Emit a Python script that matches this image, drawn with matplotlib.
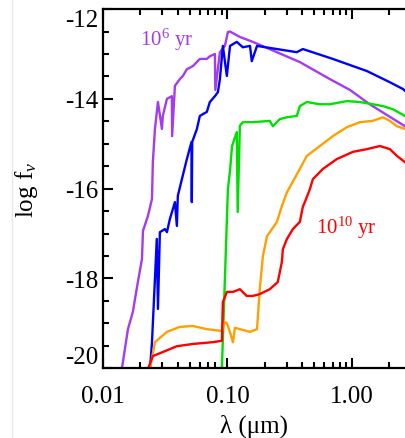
import matplotlib
matplotlib.use("Agg")
import matplotlib.pyplot as plt
from matplotlib.ticker import FixedLocator, MultipleLocator, LogLocator, FormatStrFormatter, NullFormatter
from matplotlib.lines import Line2D

plt.rcParams['font.family'] = ['Liberation Serif', 'DejaVu Serif']
plt.rcParams['mathtext.fontset'] = 'custom'
plt.rcParams['mathtext.rm'] = 'Liberation Serif'
plt.rcParams['mathtext.it'] = 'Liberation Serif:italic'

# spectra: wavelength (micron) and log f_nu
wave_1e6 = [0.0142, 0.0159, 0.0174, 0.0191, 0.0206, 0.0210, 0.0230, 0.0248, 0.0252, 0.0262,
            0.0277, 0.0298, 0.0303, 0.0327, 0.0358, 0.0360, 0.0379, 0.0415, 0.0439, 0.0473,
            0.0528, 0.0601, 0.0684, 0.0723, 0.0794, 0.0800, 0.0871, 0.0955, 0.101, 0.105,
            0.126, 0.160, 0.382, 0.666, 0.964, 1.39, 2.67]
flux_1e6 = [-20.02, -19.13, -18.75, -18.08, -17.57, -16.94, -16.61, -16.23, -15.41, -14.67,
            -14.07, -14.67, -14.38, -14.00, -13.94, -14.83, -13.71, -13.56, -13.49, -13.34,
            -13.27, -13.11, -13.11, -13.05, -13.00, -13.80, -12.96, -12.82, -12.51, -12.50,
            -12.62, -12.73, -13.18, -13.56, -13.80, -14.12, -14.61]

wave_blue = [0.0239, 0.0248, 0.0262, 0.0271, 0.0277, 0.0287, 0.0315, 0.0327, 0.0345, 0.0379,
             0.0393, 0.0400, 0.0431, 0.0473, 0.0515, 0.0518, 0.0522, 0.0569, 0.0601, 0.0684,
             0.0723, 0.0794, 0.0839, 0.0871, 0.0920, 0.0990, 0.105, 0.119, 0.133, 0.152,
             0.157, 0.173, 0.250, 0.361, 0.404, 0.703, 1.32, 2.02, 2.57, 2.67]
flux_blue = [-20.02, -19.42, -18.00, -17.12, -18.68, -16.97, -16.90, -16.97, -16.68, -16.30,
             -16.83, -16.16, -15.79, -15.34, -14.96, -16.30, -14.96, -14.67, -14.38, -14.29,
             -14.07, -13.94, -13.85, -13.56, -12.82, -13.49, -12.82, -12.73, -12.85, -12.82,
             -13.16, -12.82, -12.89, -12.96, -12.89, -13.11, -13.38, -13.63, -13.78, -13.82]

wave_green = [0.0903, 0.101, 0.105, 0.109, 0.119, 0.121, 0.126, 0.133, 0.160, 0.219,
              0.232, 0.264, 0.301, 0.361, 0.382, 0.435, 0.553, 0.666, 0.912, 1.16,
              1.47, 1.77, 2.13, 2.67]
flux_green = [-20.02, -16.01, -15.60, -15.05, -14.74, -16.52, -14.60, -14.52, -14.52, -14.49,
              -14.61, -14.45, -14.41, -14.38, -14.16, -14.07, -14.12, -14.12, -14.05, -14.07,
              -14.12, -14.16, -14.23, -14.38]

wave_orange = [0.0239, 0.0262, 0.0327, 0.0415, 0.0528, 0.0684, 0.0903, 0.0955, 0.0991, 0.105,
               0.111, 0.115, 0.126, 0.152, 0.173, 0.182, 0.193, 0.208, 0.228, 0.250,
               0.274, 0.301, 0.382, 0.435, 0.553, 0.703, 0.912, 1.16, 1.47, 1.77,
               2.02, 2.30, 2.67]
flux_orange = [-20.02, -19.42, -19.19, -19.08, -19.06, -19.13, -19.17, -18.97, -19.00, -19.20,
               -19.42, -19.10, -19.13, -19.19, -19.13, -18.24, -17.50, -17.06, -16.90, -16.74,
               -16.39, -16.08, -15.56, -15.27, -15.05, -14.83, -14.63, -14.52, -14.49, -14.41,
               -14.49, -14.61, -14.67]

wave_1e10 = [0.0230, 0.0252, 0.0303, 0.0393, 0.0528, 0.0765, 0.0903, 0.0920, 0.0991, 0.111,
             0.126, 0.143, 0.160, 0.182, 0.219, 0.254, 0.274, 0.279, 0.301, 0.336,
             0.382, 0.404, 0.419, 0.460, 0.486, 0.585, 0.758, 1.02, 1.32, 1.68,
             2.02, 2.30, 2.67]
flux_1e10 = [-20.02, -19.73, -19.64, -19.51, -19.46, -19.42, -19.39, -18.53, -18.30, -18.30,
             -18.24, -18.39, -18.39, -18.35, -18.24, -18.08, -17.63, -17.35, -17.12, -16.90,
             -16.74, -16.40, -16.30, -16.01, -15.79, -15.56, -15.34, -15.18, -15.12, -15.05,
             -15.12, -15.27, -15.41]

fig = plt.figure(figsize=(4.05, 4.39), dpi=100)
ax = fig.add_axes([0.254, 0.159, 0.746, 0.818])

lw = 1.7
ax.plot(wave_1e6, flux_1e6, color='#a23cf0', lw=lw)
ax.plot(wave_blue, flux_blue, color='#0000ff', lw=lw)
ax.plot(wave_green, flux_green, color='#00e000', lw=lw)
ax.plot(wave_orange, flux_orange, color='#ffa000', lw=lw)
ax.plot(wave_1e10, flux_1e10, color='#ff0000', lw=lw)

ax.text(0.0327, -12.67, r'10$^{6}$ yr', color='#a23cf0', fontsize=15, ha='center', va='center')
ax.text(0.895, -16.86, r'10$^{10}$ yr', color='#ff0000', fontsize=15, ha='center', va='center')

ax.set_xscale('log')
ax.set_xlim(0.01, 2.67)
ax.set_ylim(-20, -12)

ax.xaxis.set_major_locator(FixedLocator([0.01, 0.1, 1.0]))
ax.xaxis.set_major_formatter(FormatStrFormatter('%.2f'))
ax.xaxis.set_minor_locator(LogLocator(base=10, subs=range(2, 10)))
ax.xaxis.set_minor_formatter(NullFormatter())
ax.yaxis.set_major_locator(FixedLocator([-20, -18, -16, -14, -12]))
ax.yaxis.set_major_formatter(FormatStrFormatter('%d'))
ax.yaxis.set_minor_locator(MultipleLocator(0.5))

ax.tick_params(which='both', direction='in', top=True, right=False, width=1.5, labelsize=18)
ax.tick_params(which='major', length=7)
ax.tick_params(which='minor', length=4.5)
ax.tick_params(axis='x', pad=12)
ax.tick_params(axis='y', pad=3)

for side in ['left', 'top', 'bottom']:
    ax.spines[side].set_linewidth(1.6)
ax.spines['right'].set_visible(False)

ax.set_xlabel('λ (μm)', fontsize=18, labelpad=5)
ax.set_ylabel(r'log f$_{\nu}$', fontsize=18, labelpad=18)

# end labels pushed inside the frame like the original
yt = ax.yaxis.get_major_ticks()
yt[0].label1.set_va('bottom')
yt[-1].label1.set_va('top')

fig.add_artist(Line2D([0.03, 0.03], [0, 1], transform=fig.transFigure, color='#e8e8e8', lw=1))

fig.savefig('out.png', dpi=100)
